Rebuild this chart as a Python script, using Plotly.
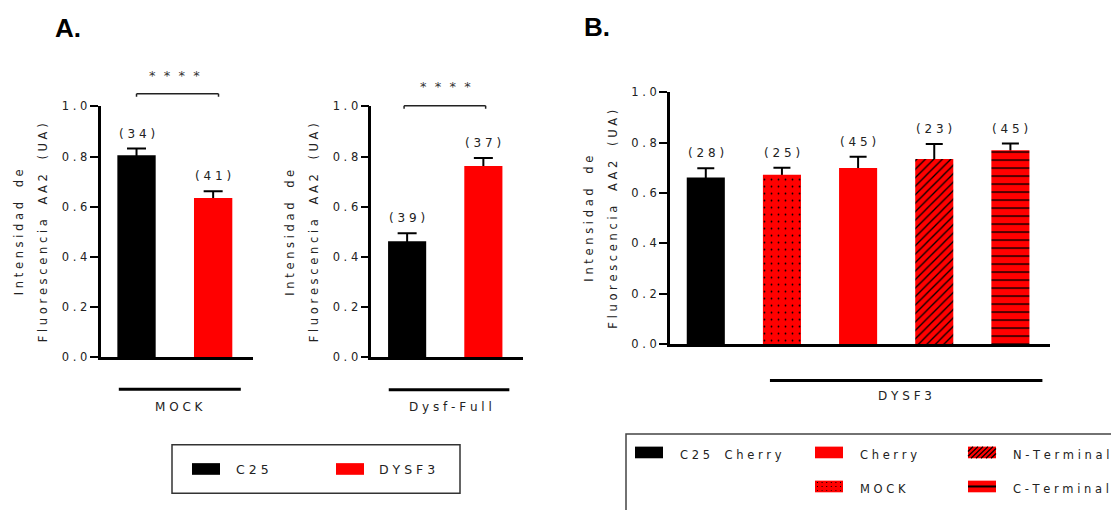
import plotly.graph_objects as go

W, H = 1119, 510          # target picture size
OFF = 8                   # page body margin of the browser
FW, FH = W - OFF, H - OFF  # figure size so that the picture is filled exactly
FONT = "DejaVu Sans"
TXT = "#222222"
RED = "#ff0000"
BLACK = "#000000"
CLEAR = "rgba(0,0,0,0)"

# ---------------- data ----------------
a_groups = ["C25", "DYSF3"]
mock_vals = [0.805, 0.635]
mock_err = [0.027, 0.027]
mock_n = ["(34)", "(41)"]
full_vals = [0.4625, 0.762]
full_err = [0.032, 0.032]
full_n = ["(39)", "(37)"]

b_groups = ["C25 Cherry", "MOCK", "Cherry", "N-Terminal", "C-Terminal"]
b_vals = [0.661, 0.672, 0.699, 0.735, 0.769]
b_err = [0.037, 0.028, 0.045, 0.059, 0.027]
b_n = ["(28)", "(25)", "(45)", "(23)", "(45)"]

y_ticks = [0.0, 0.2, 0.4, 0.6, 0.8, 1.0]
y_tick_labels = ["0.0", "0.2", "0.4", "0.6", "0.8", "1.0"]
y_title_1 = "Intensidad de"
y_title_2 = "Fluorescencia AA2 (UA)"
sig_label = "****"
group_a1 = "MOCK"
group_a2 = "Dysf-Full"
group_b = "DYSF3"

# ---------------- styles ----------------
a_colors = [BLACK, RED]
b_colors = [BLACK, RED, RED, RED, RED]
b_shapes = ["", ".", "", "/", "-"]
b_psize = [8, 7, 8, 6, 8]
b_psolid = [0.2, 0.05, 0.2, 0.22, 0.17]

NB = "\u00a0"


def sp(s, gap=1, word=2):
    """Letter-spaced text (the reference uses wide tracking)."""
    out = [NB * word if ch == " " else ch for ch in s]
    return (NB * gap).join(out)


def px(x):
    return (x - OFF) / FW


def py(y):
    return 1 - (y - OFF) / FH


fig = go.Figure()


def add_errors(cats, vals, errs, xa, ya, capw):
    # error bars on hidden bars, drawn first; real bars on top hide the lower half
    fig.add_trace(go.Bar(
        x=cats, y=vals, width=0.5, marker=dict(color=CLEAR, line=dict(width=0)),
        error_y=dict(type="data", array=errs, symmetric=True, color=BLACK,
                     thickness=2, width=capw),
        xaxis=xa, yaxis=ya, hoverinfo="skip"))


add_errors(a_groups, mock_vals, mock_err, "x", "y", 9.5)
fig.add_trace(go.Bar(x=a_groups, y=mock_vals, width=0.5,
                     marker=dict(color=a_colors, line=dict(width=0)),
                     xaxis="x", yaxis="y", hoverinfo="skip"))
add_errors(a_groups, full_vals, full_err, "x2", "y2", 9.5)
fig.add_trace(go.Bar(x=a_groups, y=full_vals, width=0.5,
                     marker=dict(color=a_colors, line=dict(width=0)),
                     xaxis="x2", yaxis="y2", hoverinfo="skip"))
add_errors(b_groups, b_vals, b_err, "x3", "y3", 8.5)
for cat, val, col, shp, psz, psol in zip(b_groups, b_vals, b_colors, b_shapes,
                                          b_psize, b_psolid):
    marker = dict(color=col, line=dict(width=0))
    if shp:
        marker["pattern"] = dict(shape=shp, fgcolor=BLACK, bgcolor=col, fgopacity=1,
                                 size=psz, solidity=psol, fillmode="replace")
    fig.add_trace(go.Bar(x=[cat], y=[val], width=0.5, marker=marker,
                         xaxis="x3", yaxis="y3", hoverinfo="skip"))

ticktext = [sp(t) for t in y_tick_labels]


def xax(domain, n, anchor):
    return dict(domain=domain, range=[-0.47, n - 0.5 + 0.02], type="category",
                categoryorder="array",
                showticklabels=False, ticks="", showline=True, linewidth=3,
                linecolor=BLACK, showgrid=False, zeroline=False, anchor=anchor,
                fixedrange=True)


def yax(domain, anchor):
    return dict(domain=domain, range=[0, 1.0], tickvals=y_ticks, ticktext=ticktext,
                ticks="outside", ticklen=8, tickwidth=2, tickcolor=BLACK,
                showline=True, linewidth=2.5, linecolor=BLACK, showgrid=False,
                zeroline=False, anchor=anchor, fixedrange=True,
                tickfont=dict(family=FONT, size=11.5, color=TXT))


dA1x = [px(100.5), px(253)]
dA2x = [px(371.3), px(523)]
dBx = [px(670), px(1050)]
dAy = [py(360), py(102)]
dBy = [py(346.7), py(87.3)]

xa1 = xax(dA1x, 2, "y"); xa1["categoryarray"] = a_groups
xa2 = xax(dA2x, 2, "y2"); xa2["categoryarray"] = a_groups
xa3 = xax(dBx, 5, "y3"); xa3["categoryarray"] = b_groups

fig.update_layout(
    xaxis=xa1, yaxis=yax(dAy, "x"),
    xaxis2=xa2, yaxis2=yax(dAy, "x2"),
    xaxis3=xa3, yaxis3=yax(dBy, "x3"),
)

ann = []
shapes = []

# n labels above error bars
for xr, yr, cats, vals, errs, ns in [
    ("x", "y", a_groups, mock_vals, mock_err, mock_n),
    ("x2", "y2", a_groups, full_vals, full_err, full_n),
    ("x3", "y3", b_groups, b_vals, b_err, b_n),
]:
    for c, v, e, t in zip(cats, vals, errs, ns):
        ann.append(dict(x=c, y=v + e, xref=xr, yref=yr, text=sp(t), showarrow=False,
                        yanchor="middle", yshift=15,
                        font=dict(family=FONT, size=12, color=TXT)))

# y titles
for x1, x2, yc in [(18.5, 42.5, 232), (290, 313.5, 232), (589.5, 613.5, 218)]:
    ann.append(dict(x=px(x1), y=py(yc), xref="paper", yref="paper", text=sp(y_title_1),
                    textangle=-90, showarrow=False, xanchor="center", yanchor="middle",
                    font=dict(family=FONT, size=11.5, color=TXT)))
    ann.append(dict(x=px(x2), y=py(yc), xref="paper", yref="paper", text=sp(y_title_2),
                    textangle=-90, showarrow=False, xanchor="center", yanchor="middle",
                    font=dict(family=FONT, size=11.5, color=TXT)))

# significance brackets (x in category units, y in axis-domain units)
for xr, yr, xa, xb, ylev, ystar in [("x", "y domain", 0.0, 1.07, 1.05, 1.125),
                                     ("x2", "y2 domain", -0.04, 1.03, 1.003, 1.08)]:
    shapes.append(dict(type="line", xref=xr, yref=yr, x0=xa, x1=xb, y0=ylev, y1=ylev,
                       line=dict(color=TXT, width=1.5)))
    for xx in (xa, xb):
        shapes.append(dict(type="line", xref=xr, yref=yr, x0=xx, x1=xx, y0=ylev,
                           y1=ylev - 0.012, line=dict(color=TXT, width=1.5)))
    ann.append(dict(x=0.5, y=ystar, xref=xr, yref=yr, text=sp(sig_label, 2),
                    showarrow=False, yanchor="middle",
                    font=dict(family=FONT, size=13, color="#333333")))

# group lines + labels
for xr, yr, x0, x1, yl, label, xl, ylab in [
    ("x domain", "y domain", 0.12, 0.92, -0.128, group_a1, 0.515, -0.235),
    ("x2 domain", "y2 domain", 0.115, 0.91, -0.13, group_a2, 0.52, -0.235),
    ("x3 domain", "y3 domain", 0.263, 0.98, -0.144, group_b, 0.618, -0.24),
]:
    shapes.append(dict(type="line", xref=xr, yref=yr, x0=x0, x1=x1, y0=yl, y1=yl,
                       line=dict(color=BLACK, width=3)))
    ann.append(dict(x=xl, y=ylab, xref=xr, yref=yr, text=sp(label), showarrow=False,
                    font=dict(family=FONT, size=12, color=TXT)))

# panel letters
ann.append(dict(x=px(53), y=py(21), xref="paper", yref="paper", text="<b>A.</b>",
                showarrow=False, xanchor="left", yanchor="middle",
                font=dict(family="Liberation Sans", size=26, color=BLACK)))
ann.append(dict(x=px(582), y=py(20), xref="paper", yref="paper", text="<b>B.</b>",
                showarrow=False, xanchor="left", yanchor="middle",
                font=dict(family="Liberation Sans", size=26, color=BLACK)))


# ---------------- legends (drawn manually for wide swatches) ----------------
def rect(x0, y0, x1, y1, fill=None, line_color=None, lw=0):
    d = dict(type="rect", xref="paper", yref="paper", x0=px(x0), x1=px(x1),
             y0=py(y1), y1=py(y0), line=dict(width=lw, color=line_color or CLEAR))
    if fill:
        d["fillcolor"] = fill
    return d


def seg(x0, y0, x1, y1, color=BLACK, w=1.2):
    return dict(type="line", xref="paper", yref="paper", x0=px(x0), x1=px(x1),
                y0=py(y0), y1=py(y1), line=dict(color=color, width=w))


def legend_text(x, y, t, size=12):
    return dict(x=px(x), y=py(y), xref="paper", yref="paper", text=sp(t), showarrow=False,
                xanchor="left", yanchor="middle", font=dict(family=FONT, size=size, color=TXT))


# legend A
shapes.append(rect(172, 450, 460, 500, line_color="#333333", lw=1.5))
shapes.append(rect(192, 469, 220, 481, fill=BLACK))
shapes.append(rect(336, 469, 364, 481, fill=RED))
ann.append(legend_text(234, 475.5, a_groups[0], 12.5))
ann.append(legend_text(377, 475.5, a_groups[1], 12.5))

# legend B
shapes.append(rect(626, 439, 1140, 530, line_color="#444444", lw=1.5))
sw = {"C25 Cherry": (635, 452), "Cherry": (815, 452), "N-Terminal": (968, 452),
      "MOCK": (815, 487), "C-Terminal": (968, 487)}
sw_w, sw_h = 28, 12
for name, (sx, sy) in sw.items():
    col = BLACK if name == "C25 Cherry" else RED
    shapes.append(rect(sx, sy, sx + sw_w, sy + sw_h, fill=col))
    ann.append(legend_text(sx + 43, sy + 8.5, name, 11.5))
    if name == "N-Terminal":
        step = 5
        xb = sx - sw_h
        while xb < sx + sw_w:
            t0 = max(0.0, (sx - xb) / sw_h)
            t1 = min(1.0, (sx + sw_w - xb) / sw_h)
            if t1 > t0:
                shapes.append(seg(xb + t0 * sw_h, sy + sw_h - t0 * sw_h,
                                  xb + t1 * sw_h, sy + sw_h - t1 * sw_h, w=1.3))
            xb += step
    elif name == "C-Terminal":
        shapes.append(seg(sx, sy + sw_h / 2, sx + sw_w, sy + sw_h / 2, w=2))
    elif name == "MOCK":
        for r in range(3):
            for c in range(6):
                cx, cy = sx + 2.5 + c * 4.6, sy + 2 + r * 4
                shapes.append(rect(cx - 0.5, cy - 0.5, cx + 0.5, cy + 0.5, fill=BLACK))

fig.update_layout(
    width=FW, height=FH, margin=dict(l=0, r=0, t=0, b=0),
    paper_bgcolor="white", plot_bgcolor="white", showlegend=False,
    annotations=ann, shapes=shapes, barmode="overlay",
    font=dict(family=FONT, color=TXT),
)

fig.write_html("out.html")
